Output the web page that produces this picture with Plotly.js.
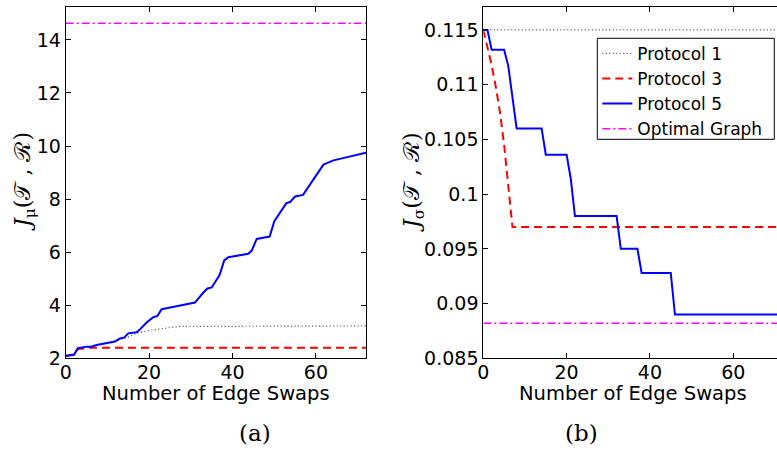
<!DOCTYPE html>
<html>
<head>
<meta charset="utf-8">
<script src="https://cdn.plot.ly/plotly-3.0.1.min.js"></script>
<style>html,body{margin:0;padding:0;background:#fff;}#chart{width:777px;height:451px;}</style>
</head>
<body>
<div id="chart"></div>
<script>
// ---- Data: panel (a) J_mu ----
var muP1X = [0, 2, 3, 5, 8, 12, 15, 17, 20, 23, 27, 72];
var muP1Y = [2.1, 2.15, 2.35, 2.42, 2.5, 2.65, 2.8, 2.95, 3.05, 3.12, 3.2, 3.22];
var muP3X = [0, 2, 3, 5, 6, 72];
var muP3Y = [2.1, 2.15, 2.35, 2.38, 2.4, 2.4];
var muP5X = [0, 2, 2.9, 5, 6.2, 7.4, 11.8, 13, 14, 15, 17, 17.8, 19.4, 21, 22, 23, 24.2, 29.4, 31, 33, 34, 35, 36.9, 38, 39, 43.8, 44.6, 45.8, 48.9, 50, 51, 52.9, 53.8, 55, 56.9, 61.8, 64.2, 72];
var muP5Y = [2.09, 2.13, 2.38, 2.44, 2.44, 2.5, 2.63, 2.75, 2.78, 2.94, 2.98, 3.09, 3.35, 3.55, 3.6, 3.85, 3.89, 4.04, 4.1, 4.48, 4.63, 4.67, 5.14, 5.69, 5.81, 5.94, 6.06, 6.5, 6.59, 7.16, 7.41, 7.85, 7.89, 8.1, 8.16, 9.3, 9.46, 9.75];
var muOptX = [0, 72];
var muOptY = [14.63, 14.63];

// ---- Data: panel (b) J_sigma ----
var sgP1X = [0, 72];
var sgP1Y = [0.115, 0.115];
var sgP3X = [0, 1, 2, 3, 4, 5, 6, 7, 72];
var sgP3Y = [0.115, 0.1135, 0.1118, 0.1098, 0.1075, 0.1045, 0.1005, 0.097, 0.097];
var sgP5X = [0, 1, 2, 5, 6, 8, 14, 15, 20, 21, 22, 32, 33, 37, 38, 45, 46, 72];
var sgP5Y = [0.115, 0.115, 0.1132, 0.1132, 0.1117, 0.106, 0.106, 0.1036, 0.1036, 0.1014, 0.098, 0.098, 0.095, 0.095, 0.0928, 0.0928, 0.089, 0.089];
var sgOptX = [0, 72];
var sgOptY = [0.0882, 0.0882];

var names = ['Protocol 1', 'Protocol 3', 'Protocol 5', 'Optimal Graph'];
var xTicks = [0, 20, 40, 60];
var muTicks = [2, 4, 6, 8, 10, 12, 14];
var sgTicks = [0.085, 0.09, 0.095, 0.1, 0.105, 0.11, 0.115];
var sgTickText = ['0.085', '0.09', '0.095', '0.1', '0.105', '0.11', '0.115'];

var styles = [
  {color: '#444444', width: 1.2, dash: '1px,2.5px'},
  {color: '#ff0000', width: 2, dash: '8px,5px'},
  {color: '#0000ff', width: 2, dash: 'solid'},
  {color: '#ff00ff', width: 1.5, dash: '8px,3px,2px,3px'}
];

var W = 777, H = 451;
function px(x) { return x / W; }
function py(y) { return 1 - y / H; }

var seriesA = [[muP1X, muP1Y], [muP3X, muP3Y], [muP5X, muP5Y], [muOptX, muOptY]];
var seriesB = [[sgP1X, sgP1Y], [sgP3X, sgP3Y], [sgP5X, sgP5Y], [sgOptX, sgOptY]];
var traces = [];
seriesA.forEach(function (s, i) {
  traces.push({x: s[0], y: s[1], mode: 'lines', name: names[i], line: styles[i], showlegend: false, xaxis: 'x', yaxis: 'y', hoverinfo: 'skip'});
});
seriesB.forEach(function (s, i) {
  traces.push({x: s[0], y: s[1], mode: 'lines', name: names[i], line: styles[i], showlegend: true, xaxis: 'x2', yaxis: 'y2', hoverinfo: 'skip'});
});

var sans = 'DejaVu Sans, sans-serif';
var tickFont = {family: sans, size: 19, color: '#000'};
var yDom = [py(358.3), py(7.3)];
function axisBase() {
  return {showline: true, linecolor: '#000', linewidth: 1, ticks: 'inside', ticklen: 5, tickcolor: '#000',
    showgrid: false, zeroline: false, tickfont: tickFont, automargin: false, fixedrange: true};
}
var xa = Object.assign(axisBase(), {domain: [px(65.7), px(366)], range: [0, 72], tickvals: xTicks, mirror: 'ticks', anchor: 'y', ticklabelstandoff: -3});
var ya = Object.assign(axisBase(), {domain: yDom, range: [2, 15.23], tickvals: muTicks, mirror: 'ticks', anchor: 'x'});
var xa2 = Object.assign(axisBase(), {domain: [px(483.3), 1], range: [0, 70.5], tickvals: xTicks, mirror: 'ticks', anchor: 'y2', ticklabelstandoff: -3});
var ya2 = Object.assign(axisBase(), {domain: yDom, range: [0.085, 0.11707], tickvals: sgTicks, ticktext: sgTickText, mirror: false, anchor: 'x2'});

var serif = 'DejaVu Serif, Liberation Serif, serif';
var layout = {
  width: W, height: H,
  margin: {l: 0, r: 0, t: 0, b: 0, pad: 0},
  paper_bgcolor: '#fff', plot_bgcolor: '#fff',
  xaxis: xa, yaxis: ya, xaxis2: xa2, yaxis2: ya2,
  showlegend: true,
  legend: {x: px(597.3), y: py(35.8), xanchor: 'left', yanchor: 'top', xref: 'paper', yref: 'paper',
    bgcolor: 'rgba(0,0,0,0)', borderwidth: 0, tracegroupgap: 0,
    font: {family: sans, size: 17, color: '#000'}},
  shapes: [
    {type: 'rect', xref: 'paper', yref: 'paper', x0: px(597.3), x1: px(774.3), y0: py(139.3), y1: py(38.3),
      fillcolor: '#fff', line: {color: '#000', width: 1}, layer: 'above'}
  ],
  annotations: [
    {text: 'Number of Edge Swaps', x: px(216), y: py(393), xref: 'paper', yref: 'paper', showarrow: false,
      xanchor: 'center', yanchor: 'middle', font: {family: sans, size: 19.5, color: '#000'}},
    {text: 'Number of Edge Swaps', x: px(633), y: py(393), xref: 'paper', yref: 'paper', showarrow: false,
      xanchor: 'center', yanchor: 'middle', font: {family: sans, size: 19.5, color: '#000'}},
    {text: '<i>J</i><sub>μ</sub>(𝒯 , ℛ)', x: px(24), y: py(182), xref: 'paper', yref: 'paper', showarrow: false,
      textangle: -90, xanchor: 'center', yanchor: 'middle', font: {family: serif, size: 22, color: '#000'}},
    {text: '<i>J</i><sub>σ</sub>(𝒯 , ℛ)', x: px(413), y: py(182), xref: 'paper', yref: 'paper', showarrow: false,
      textangle: -90, xanchor: 'center', yanchor: 'middle', font: {family: serif, size: 22, color: '#000'}},
    {text: '(a)', x: px(255), y: py(433), xref: 'paper', yref: 'paper', showarrow: false,
      xanchor: 'center', yanchor: 'middle', font: {family: serif, size: 23, color: '#000'}},
    {text: '(b)', x: px(581), y: py(433), xref: 'paper', yref: 'paper', showarrow: false,
      xanchor: 'center', yanchor: 'middle', font: {family: serif, size: 23, color: '#000'}}
  ]
};

Plotly.newPlot('chart', traces, layout, {staticPlot: true, displayModeBar: false});
</script>
</body>
</html>
